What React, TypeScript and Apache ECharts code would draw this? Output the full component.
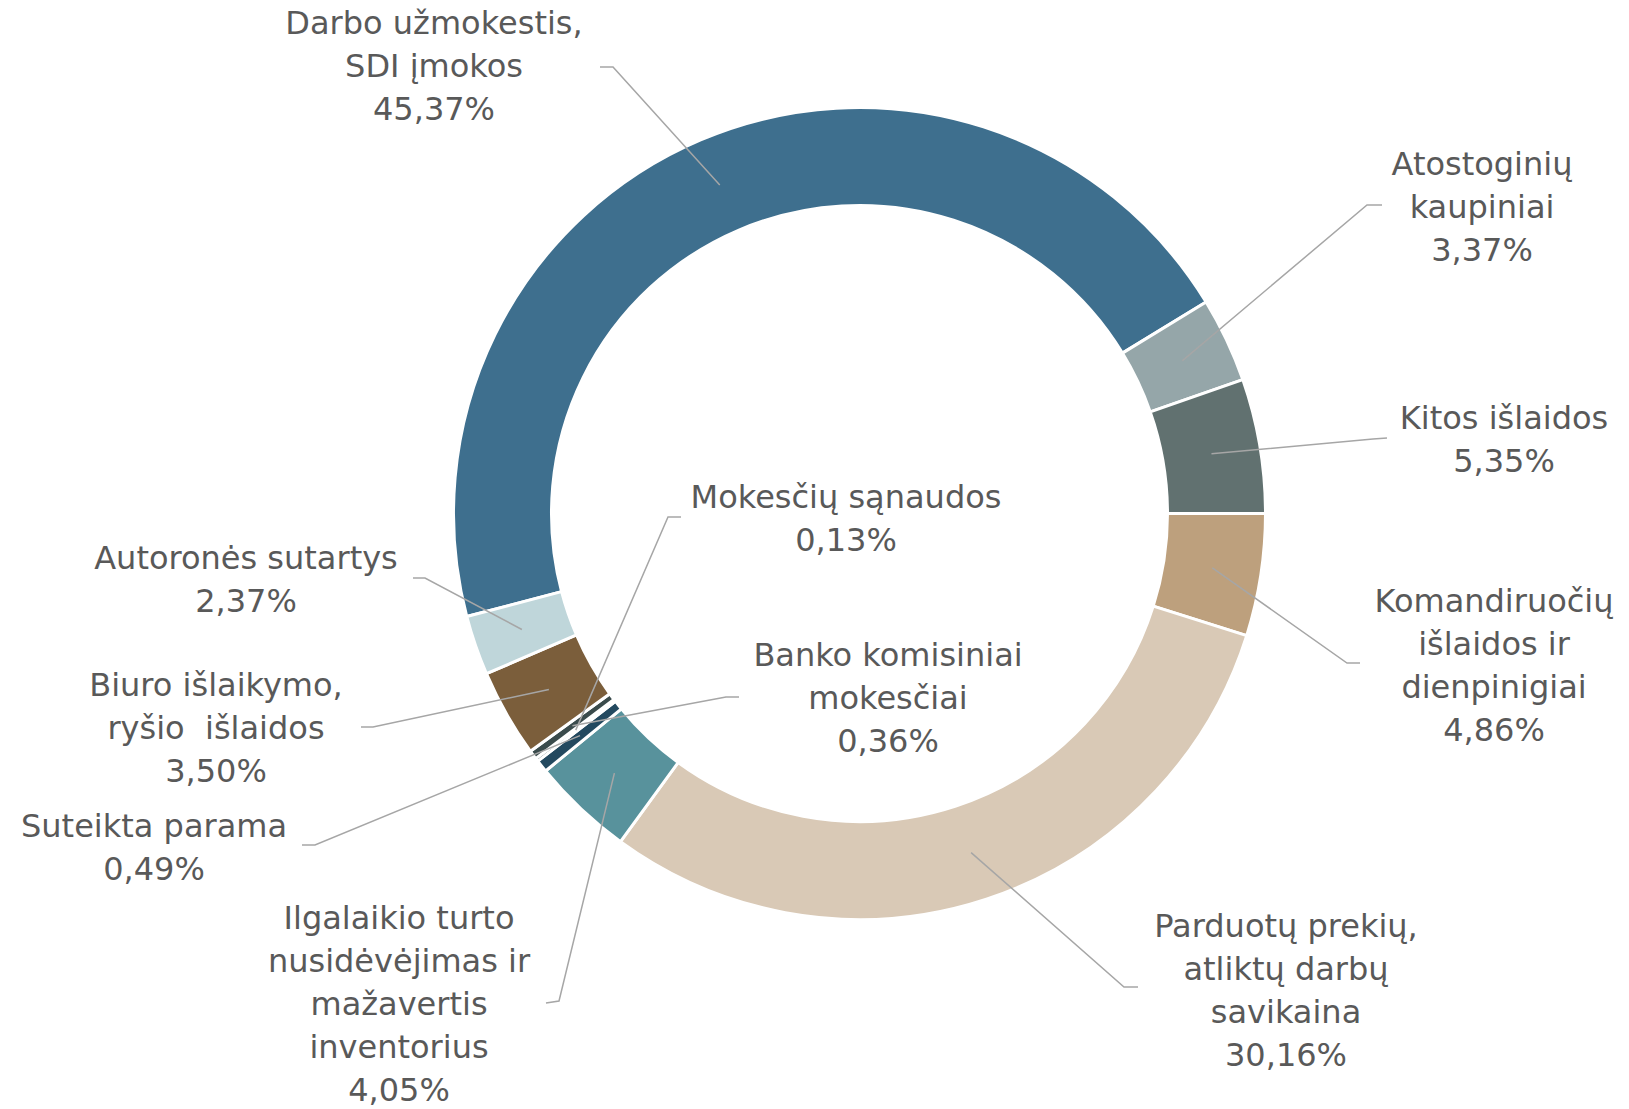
import React, { useEffect, useRef } from "react";
import * as echarts from "echarts";

// ---- data ----
const CATEGORIES = [
  "Darbo užmokestis,\nSDI įmokos",
  "Atostoginių\nkaupiniai",
  "Kitos išlaidos",
  "Komandiruočių\nišlaidos ir\ndienpinigiai",
  "Parduotų prekių,\natliktų darbų\nsavikaina",
  "Ilgalaikio turto\nnusidėvėjimas ir\nmažavertis\ninventorius",
  "Suteikta parama",
  "Mokesčių sąnaudos",
  "Banko komisiniai\nmokesčiai",
  "Biuro išlaikymo,\nryšio  išlaidos",
  "Autoronės sutartys",
];
const VALUES = [45.37, 3.37, 5.35, 4.86, 30.16, 4.05, 0.49, 0.13, 0.36, 3.5, 2.37];

// ---- styles / layout ----
const COLORS = [
  "#3e6f8e",
  "#95a6a9",
  "#617170",
  "#bda07d",
  "#d9c9b6",
  "#58929c",
  "#23495f",
  "#36474a",
  "#3a4b4c",
  "#7b5e3b",
  "#bfd6da",
];
const LABEL_POS = [
  [434, 66],
  [1482, 207],
  [1504, 439],
  [1494, 665],
  [1286, 990],
  [399, 1004],
  [154, 847],
  [846, 518],
  [888, 698],
  [216, 728],
  [246, 579],
];
const LEADER_START = [
  [600, 67],
  [1382, 205],
  [1387, 438],
  [1360, 663],
  [1138, 987],
  [546, 1003],
  [302, 845],
  [681, 517],
  [739, 697],
  [361, 727],
  [413, 578],
];
const LEADER_KNEE = [
  [613, 67],
  [1367, 205],
  [1373, 439],
  [1347, 663],
  [1124, 987],
  [559, 1001],
  [315, 845],
  [668, 517],
  [726, 697],
  [373, 727],
  [425, 578],
];

const CX = 859.5;
const CY = 513.5;
const R_IN = 308;
const R_OUT = 406;
const START_ANGLE = 194.7;

const fmtPct = (v: number) => v.toFixed(2).replace(".", ",") + "%";

export default function App() {
  const ref = useRef<HTMLDivElement>(null);
  useEffect(() => {
    if (!ref.current) return;
    const chart = echarts.init(ref.current, null, { renderer: "svg" });
    const total = VALUES.reduce((a, b) => a + b, 0);
    const cum: number[] = [];
    let acc = 0;
    VALUES.forEach((v) => {
      cum.push(acc);
      acc += v;
    });
    const rMid = (R_IN + R_OUT) / 2;
    const midPoint = (i: number) => {
      const a = ((START_ANGLE - ((cum[i] + VALUES[i] / 2) / total) * 360) * Math.PI) / 180;
      return [CX + rMid * Math.cos(a), CY - rMid * Math.sin(a)];
    };
    const leaders = VALUES.map((_, i) => ({
      type: "polyline",
      z: 100,
      silent: true,
      shape: { points: [LEADER_START[i], LEADER_KNEE[i], midPoint(i)] },
      style: { stroke: "#a6a6a6", lineWidth: 1.5, fill: null },
    }));
    chart.setOption({
      animation: false,
      backgroundColor: "#ffffff",
      graphic: { elements: leaders },
      series: [
        {
          type: "pie",
          center: [CX, CY],
          radius: [R_IN, R_OUT],
          startAngle: START_ANGLE,
          clockwise: true,
          avoidLabelOverlap: false,
          emphasis: { disabled: true },
          itemStyle: { borderColor: "#ffffff", borderWidth: 3 },
          label: {
            show: true,
            position: "outside",
            formatter: (p: any) => `${CATEGORIES[p.dataIndex]}\n${fmtPct(VALUES[p.dataIndex])}`,
            color: "#595959",
            fontFamily: "DejaVu Sans",
            fontSize: 32,
            lineHeight: 43,
            align: "center",
          },
          labelLine: { show: false },
          labelLayout: (params: any) => {
            const i = params.dataIndex;
            return {
              x: LABEL_POS[i][0],
              y: LABEL_POS[i][1],
              align: "center",
              verticalAlign: "middle",
            };
          },
          data: VALUES.map((v, i) => ({
            name: CATEGORIES[i],
            value: v,
            itemStyle: { color: COLORS[i] },
          })),
        },
      ],
    });
    return () => chart.dispose();
  }, []);
  return (
    <div
      ref={ref}
      style={{ position: "absolute", left: 0, top: 0, width: 1629, height: 1109, background: "#fff" }}
    />
  );
}
